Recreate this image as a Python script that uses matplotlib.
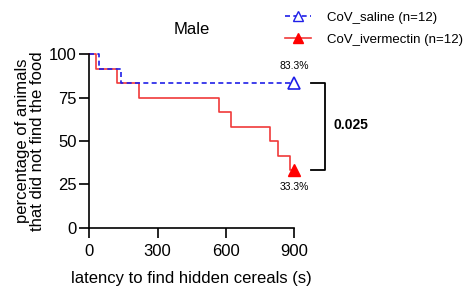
import matplotlib.pyplot as plt
from matplotlib.lines import Line2D

plt.rcParams["font.family"] = ["Liberation Sans", "DejaVu Sans"]

# Kaplan-Meier style step data (time in s, % not found)
saline_t = [0, 44, 139, 900]
saline_y = [100, 91.67, 83.33, 83.33]
iver_t = [0, 29, 120, 218, 571, 621, 793, 830, 881, 900]
iver_y = [100, 91.67, 83.33, 75, 66.67, 58.33, 50, 41.67, 33.33, 33.33]
x_ticks = [0, 300, 600, 900]
y_ticks = [0, 25, 50, 75, 100]
labels = ["CoV_saline (n=12)", "CoV_ivermectin (n=12)"]

BLUE = "#1f1fe8"
RED = "#f03a3a"

fig = plt.figure(figsize=(4.64, 2.88), dpi=100)
ax = fig.add_axes([0.1925, 0.2094, 0.4418, 0.6014])

# Step curves
ax.step(iver_t, iver_y, where="post", color=RED, lw=1.2, clip_on=False)
ax.step(saline_t, saline_y, where="post", color=BLUE, lw=1.2,
        ls=(0, (3, 2)), clip_on=False)

# End markers
ax.plot(saline_t[-1], saline_y[-1], marker="^", ms=8, mfc="white",
        mec=BLUE, mew=1.2, ls="none", clip_on=False)
ax.plot(iver_t[-1], iver_y[-1], marker="^", ms=8, color="red",
        ls="none", clip_on=False)

# Percent labels
ax.text(saline_t[-1], saline_y[-1] + 7, "83.3%", ha="center", va="bottom",
        fontsize=7.5)
ax.text(iver_t[-1], iver_y[-1] - 7, "33.3%", ha="center", va="top",
        fontsize=7.5)

# Significance bracket
ax.plot([975, 1035, 1035, 975],
        [saline_y[-1], saline_y[-1], iver_y[-1], iver_y[-1]],
        color="black", lw=1.3, clip_on=False)
ax.text(1070, (saline_y[-1] + iver_y[-1]) / 2 + 1, "0.025",
        fontsize=10, fontweight="bold", va="center", ha="left")

ax.set_xlim(0, 900)
ax.set_ylim(0, 100)
ax.set_xticks(x_ticks)
ax.set_yticks(y_ticks)
ax.tick_params(length=7.5, width=1.2, labelsize=12)
ax.tick_params(axis="y", pad=1.5)
ax.tick_params(axis="x", pad=4)
for side in ["top", "right"]:
    ax.spines[side].set_visible(False)
for side in ["left", "bottom"]:
    ax.spines[side].set_linewidth(1.2)

ax.set_xlabel("latency to find hidden cereals (s)", fontsize=12, labelpad=9)
ax.set_ylabel("percentage of animals\nthat did not find the food",
              fontsize=12, labelpad=3, linespacing=1.0)
ax.set_title("Male", fontsize=12, pad=15)

# Legend
handles = [
    Line2D([], [], color=BLUE, ls=(0, (3, 2)), lw=1.2, marker="^",
           ms=7, mfc="white", mec=BLUE),
    Line2D([], [], color=RED, lw=1.2, marker="^", ms=7,
           mfc="red", mec="red"),
]
fig.legend(handles, labels, loc="upper left", bbox_to_anchor=(0.614, 0.96),
           frameon=False, fontsize=9.5, handlelength=2.0, handletextpad=1.2,
           labelspacing=0.75, borderpad=0, borderaxespad=0)

fig.savefig("out.png", dpi=100)
